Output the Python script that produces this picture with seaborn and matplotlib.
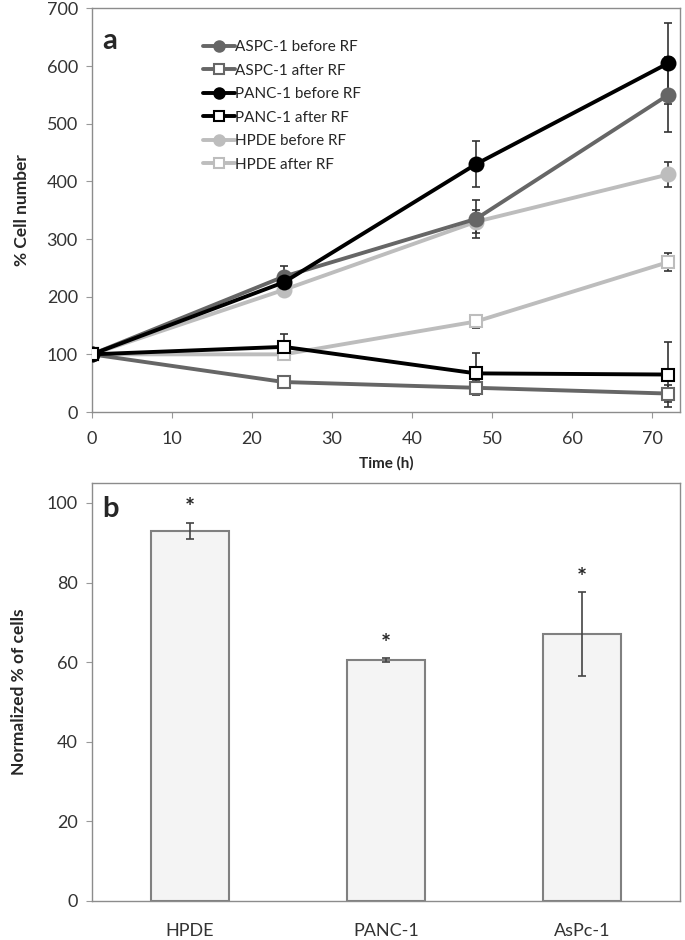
import matplotlib
matplotlib.use("Agg")
import matplotlib.pyplot as plt
import seaborn as sns
import pandas as pd

# Panel a: cell growth over time
time_h = [0, 24, 48, 72]
series_names = ["ASPC-1 before RF", "ASPC-1 after RF", "PANC-1 before RF",
                "PANC-1 after RF", "HPDE before RF", "HPDE after RF"]
aspc_before = [100, 235, 335, 550]
aspc_before_err = [0, 18, 33, 65]
aspc_after = [100, 52, 42, 32]
aspc_after_err = [0, 10, 12, 15]
panc_before = [100, 225, 430, 605]
panc_before_err = [0, 15, 40, 70]
panc_after = [100, 113, 67, 65]
panc_after_err = [0, 22, 35, 57]
hpde_before = [100, 212, 330, 412]
hpde_before_err = [0, 8, 20, 22]
hpde_after = [100, 100, 157, 260]
hpde_after_err = [0, 8, 12, 15]

# Panel b: normalized cell counts
cell_lines = ["HPDE", "PANC-1", "AsPc-1"]
normalized = [93, 60.5, 67]
normalized_err = [2, 0.5, 10.5]

sns.set_style("white")
plt.rcParams['font.family'] = ['Lato', 'DejaVu Sans']

valores = [aspc_before, aspc_after, panc_before, panc_after, hpde_before, hpde_after]
errores = [aspc_before_err, aspc_after_err, panc_before_err, panc_after_err,
           hpde_before_err, hpde_after_err]
colores = ["#666666", "#666666", "#000000", "#000000", "#bdbdbd", "#bdbdbd"]
abiertos = [False, True, False, True, False, True]

fig = plt.figure(figsize=(6.85, 9.4), dpi=100)
ax1 = fig.add_axes([0.134, 0.5617, 0.859, 0.4293])
ax2 = fig.add_axes([0.134, 0.0415, 0.859, 0.4447])

# --- Panel a ---
orden = [4, 5, 0, 1, 2, 3]  # las grises primero, negras encima
for i in orden:
    df = pd.DataFrame({"t": time_h, "v": valores[i]})
    sns.lineplot(data=df, x="t", y="v", ax=ax1, color=colores[i], lw=2.8,
                 marker="s" if abiertos[i] else "o", markersize=9 if abiertos[i] else 10,
                 markerfacecolor="white" if abiertos[i] else colores[i],
                 markeredgecolor=colores[i], markeredgewidth=1.5,
                 label=series_names[i], zorder=3)
    ax1.errorbar(time_h, valores[i], yerr=errores[i], fmt="none",
                 ecolor="#333333", elinewidth=1.2, capsize=3, capthick=1.2, zorder=2)

h, l = ax1.get_legend_handles_labels()
pares = dict(zip(l, h))
ax1.legend([pares[n] for n in series_names], series_names, loc="upper left",
           bbox_to_anchor=(0.165, 0.955), frameon=False, fontsize=11,
           handlelength=2.1, handletextpad=0.0, labelspacing=0.62, markerscale=0.75)

ax1.set_xlim(0, 73.5)
ax1.set_ylim(0, 700)
ax1.set_xticks(range(0, 71, 10))
ax1.set_yticks(range(0, 701, 100))
ax1.set_xlabel("Time (h)", fontsize=11, fontweight="bold", labelpad=6)
ax1.set_ylabel("% Cell number", fontsize=12.5, fontweight="bold", labelpad=12)
ax1.text(0.017, 0.9, "a", transform=ax1.transAxes, fontsize=21, fontweight="bold")

# --- Panel b ---
df_b = pd.DataFrame({"linea": cell_lines, "valor": normalized})
sns.barplot(data=df_b, x="linea", y="valor", ax=ax2, color="#f4f4f4",
            edgecolor="#808080", linewidth=1.5, width=0.4, errorbar=None)
ax2.errorbar(range(len(cell_lines)), normalized, yerr=normalized_err, fmt="none",
             ecolor="#444444", elinewidth=1.2, capsize=3, capthick=1.2)
for i, (v, e) in enumerate(zip(normalized, normalized_err)):
    ax2.text(i, v + e + 3.5, "*", ha="center", va="center", fontsize=17, fontweight="bold")

ax2.set_xlim(-0.5, 2.5)
ax2.set_ylim(0, 105)
ax2.set_yticks(range(0, 101, 20))
ax2.set_xlabel("")
ax2.set_ylabel("Normalized % of cells", fontsize=12.5, fontweight="bold", labelpad=14)
ax2.text(0.017, 0.918, "b", transform=ax2.transAxes, fontsize=21, fontweight="bold")
ax2.set_xticks([-0.5, 0.5, 1.5, 2.5], minor=True)
ax2.tick_params(axis="x", which="major", length=0, pad=16)
ax2.tick_params(axis="x", which="minor", length=4, color="#999999", direction="out")

for ax in (ax1, ax2):
    for s in ax.spines.values():
        s.set_color("#8c8c8c")
        s.set_linewidth(1.0)
    ax.tick_params(axis="both", labelsize=13, labelcolor="#333333")
    ax.tick_params(axis="y", length=4, color="#999999", direction="out", left=True, pad=6)
ax1.tick_params(axis="x", length=4, color="#999999", direction="out", bottom=True, pad=10)

fig.savefig("out.png", dpi=100)
